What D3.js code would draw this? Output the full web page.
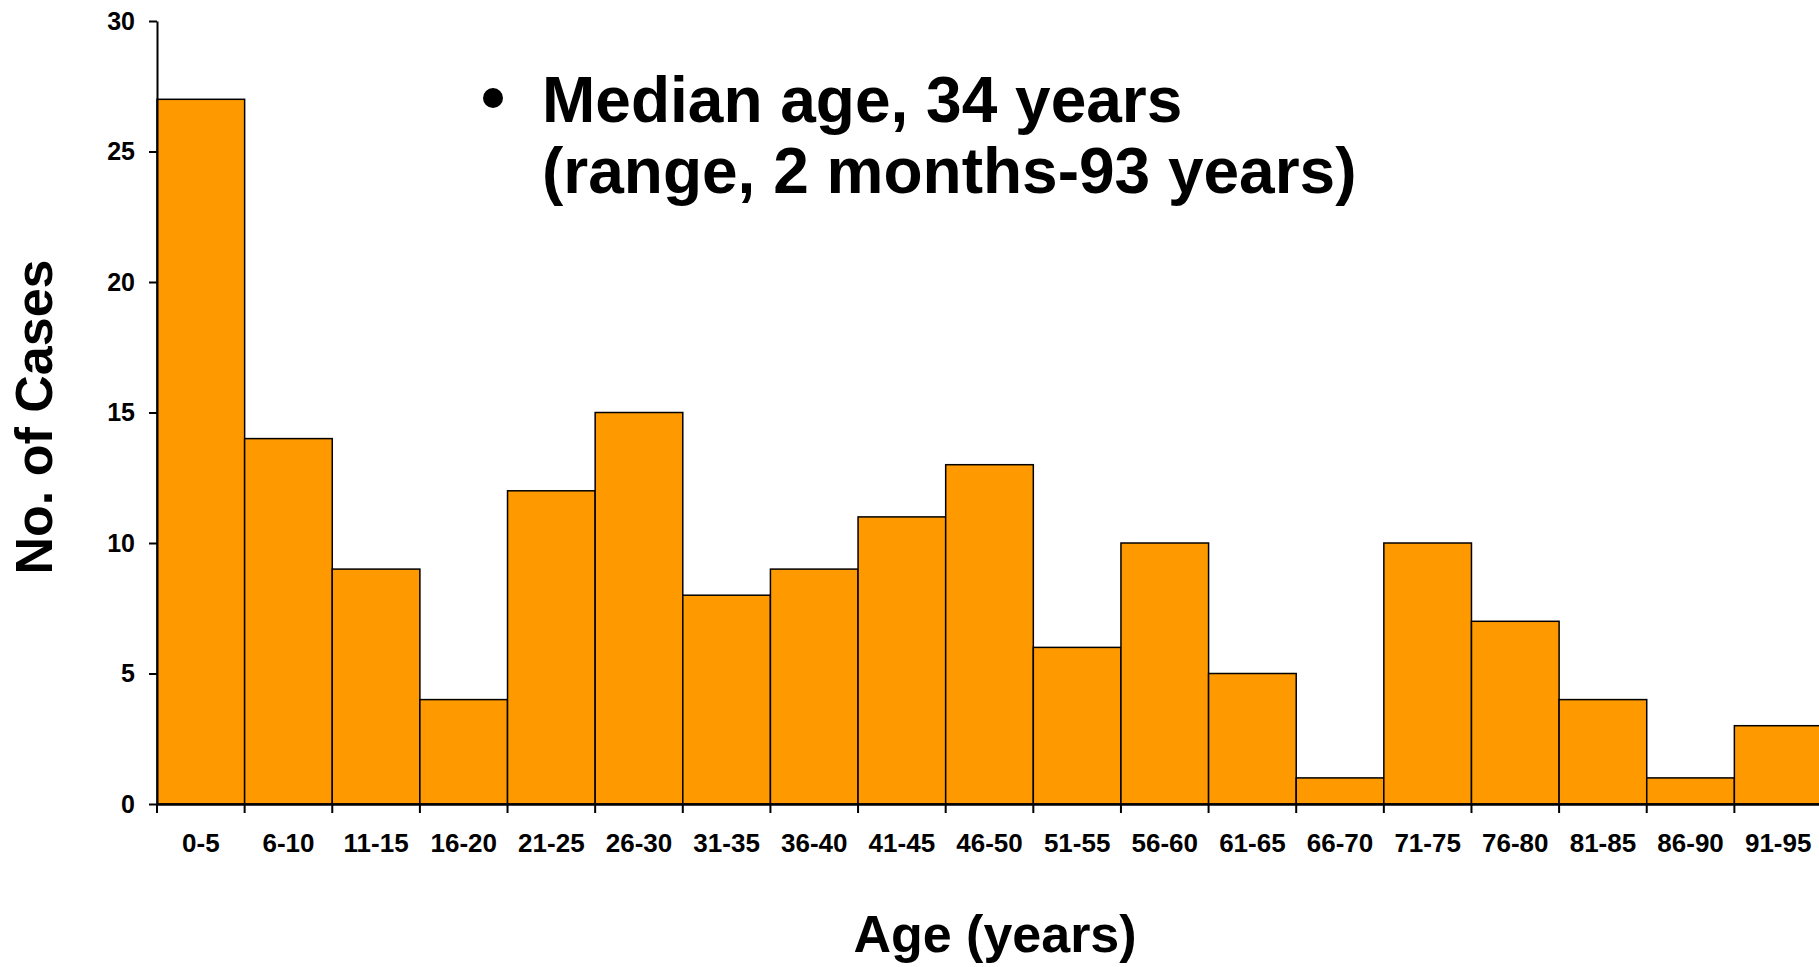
<!DOCTYPE html>
<html>
<head>
<meta charset="utf-8">
<script src="https://cdn.jsdelivr.net/npm/d3@7"></script>
<style>
  body { margin: 0; background: #fff; }
  text { font-family: "Liberation Sans", Arial, sans-serif; font-weight: bold; fill: #000; }
</style>
</head>
<body>
<script>
// age groups and counts
var ageGroups = ["0-5", "6-10", "11-15", "16-20", "21-25", "26-30", "31-35", "36-40", "41-45", "46-50",
                 "51-55", "56-60", "61-65", "66-70", "71-75", "76-80", "81-85", "86-90", "91-95"];
var cases = [27, 14, 9, 4, 12, 15, 8, 9, 11, 13, 6, 10, 5, 1, 10, 7, 4, 1, 3];
var yTicks = [0, 5, 10, 15, 20, 25, 30];
var noteLines = ["Median age, 34 years", "(range, 2 months-93 years)"];

var width = 1819, height = 967;
var plotLeft = 157, plotRight = 1822, plotTop = 21, plotBottom = 804;

var data = ageGroups.map(function(g, i) { return {group: g, value: cases[i]}; });

var svg = d3.select("body").append("svg")
    .attr("width", width)
    .attr("height", height);

// scales
var x = d3.scaleBand()
    .domain(ageGroups)
    .range([plotLeft, plotRight])
    .padding(0);
var y = d3.scaleLinear()
    .domain([0, 30])
    .range([plotBottom, plotTop]);

// bars
svg.selectAll(".bar")
    .data(data)
  .enter().append("rect")
    .attr("class", "bar")
    .attr("x", function(d) { return x(d.group); })
    .attr("width", x.bandwidth())
    .attr("y", function(d) { return y(d.value); })
    .attr("height", function(d) { return plotBottom - y(d.value); })
    .attr("fill", "#ff9900")
    .attr("stroke", "#000")
    .attr("stroke-width", 1.5);

// y axis
var yAxis = svg.append("g")
    .attr("transform", "translate(" + plotLeft + ",0)")
    .call(d3.axisLeft(y).tickValues(yTicks).tickSize(8).tickSizeOuter(0).tickPadding(14));
yAxis.select(".domain").attr("stroke-width", 2);
yAxis.selectAll(".tick line").attr("stroke-width", 2);
yAxis.selectAll("text")
    .style("font-size", "25px")
    .attr("font-family", null);

// x axis: labels in band centres, ticks on band edges
var xAxis = svg.append("g")
    .attr("transform", "translate(0," + plotBottom + ")")
    .call(d3.axisBottom(x).tickSize(0).tickPadding(30).tickSizeOuter(0));
xAxis.select(".domain").attr("stroke-width", 2.5);
xAxis.selectAll("text")
    .style("font-size", "26px")
    .attr("font-family", null);

var edges = ageGroups.map(function(g) { return x(g); });
xAxis.selectAll(".edge")
    .data(edges)
  .enter().append("line")
    .attr("class", "edge")
    .attr("x1", function(d) { return d; })
    .attr("x2", function(d) { return d; })
    .attr("y1", 0)
    .attr("y2", 9)
    .attr("stroke", "#000")
    .attr("stroke-width", 2);

// axis titles
svg.append("text")
    .attr("x", 995)
    .attr("y", 952)
    .style("text-anchor", "middle")
    .style("font-size", "52px")
    .text("Age (years)");

svg.append("text")
    .attr("transform", "translate(52,417) rotate(-90)")
    .style("text-anchor", "middle")
    .style("font-size", "52px")
    .text("No. of Cases");

// note
svg.append("circle")
    .attr("cx", 493)
    .attr("cy", 98)
    .attr("r", 10)
    .attr("fill", "#000");

svg.selectAll(".note")
    .data(noteLines)
  .enter().append("text")
    .attr("class", "note")
    .attr("x", 542)
    .attr("y", function(d, i) { return 122 + i * 71; })
    .style("font-size", "64px")
    .text(function(d) { return d; });
</script>
</body>
</html>
